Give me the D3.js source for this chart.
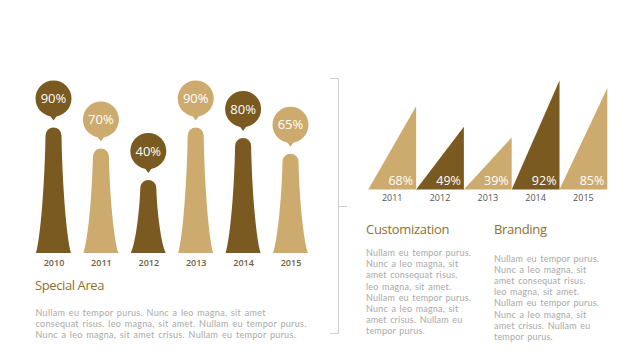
<!DOCTYPE html>
<html><head><meta charset="utf-8">
<script src="https://cdn.jsdelivr.net/npm/d3@7"></script>
<style>
html,body{margin:0;padding:0;background:#fff;}
svg{display:block;font-family:"Open Sans",sans-serif;}
</style></head>
<body>
<svg id="c" width="640" height="360"></svg>
<script>
// ---- data ----
const leftYears = ["2010","2011","2012","2013","2014","2015"];
const leftValues = [90,70,40,90,80,65];
const leftTones = ["dark","light","dark","light","dark","light"];

const rightYears = ["2011","2012","2013","2014","2015"];
const rightValues = [68,49,39,92,85];
const rightTones = ["light","dark","light","dark","light"];

const leftTitle = "Special Area";
const leftText = [
  "Nullam eu tempor purus. Nunc a leo magna, sit amet",
  "consequat risus. leo magna, sit amet. Nullam eu tempor purus.",
  "Nunc a leo magna, sit amet crisus. Nullam eu tempor purus."
];
const colTitles = ["Customization","Branding"];
const colText = [
  "Nullam eu tempor purus.",
  "Nunc a leo magna, sit",
  "amet consequat risus.",
  "leo magna, sit amet.",
  "Nullam eu tempor purus.",
  "Nunc a leo magna, sit",
  "amet crisus. Nullam eu",
  "tempor purus."
];

// ---- style ----
const COLORS = {dark:"#7a5a21", light:"#cdab6e"};
const HEAD = "#8c6f34";
const YEARC = "#6e5e42";
const BODY = "#a9a9a9";

const svg = d3.select("#c");

// ---- left chart: trumpet bars with bubbles ----
const lx = d3.scalePoint().domain(leftYears).range([53.5, 290.5]);
const ly = d3.scaleLinear().domain([0,100]).range([222,117]);
const base = 253;

function trumpet(cx, top){
  const r = 8, b = 17.5, h = base - top;
  const p = d3.path();
  p.moveTo(cx - b, base);
  p.bezierCurveTo(cx - r - 5, base - h*0.12, cx - r - 0.8, base - h*0.55, cx - r, top + r);
  p.arc(cx, top + r, r, Math.PI, 0);
  p.bezierCurveTo(cx + r + 0.8, base - h*0.55, cx + r + 5, base - h*0.12, cx + b, base);
  p.closePath();
  return p.toString();
}

const lg = svg.append("g");
leftYears.forEach((yr,i)=>{
  const cx = lx(yr), top = ly(leftValues[i]), col = COLORS[leftTones[i]];
  lg.append("path").attr("d", trumpet(cx, top)).attr("fill", col);
  const cy = top - 29;
  lg.append("circle").attr("cx",cx).attr("cy",cy).attr("r",18).attr("fill",col);
  lg.append("path")
    .attr("d", `M${cx-5},${cy+15}L${cx+5},${cy+15}L${cx},${cy+22}Z`)
    .attr("fill", col);
  lg.append("text").attr("x",cx).attr("y",cy+4.5).attr("text-anchor","middle")
    .attr("fill","#fff").attr("font-size",13).text(leftValues[i]+"%");
});
const lAxis = d3.axisBottom(lx).tickSize(0).tickPadding(0);
const lag = svg.append("g").attr("transform",`translate(0,${base+7})`).call(lAxis);
lag.select(".domain").remove();
lag.selectAll("text").attr("fill",YEARC).attr("font-size",9).attr("font-weight",600)
  .attr("font-family","'Open Sans',sans-serif");

svg.append("text").attr("x",35).attr("y",289.5).attr("fill",HEAD).attr("font-size",13)
  .attr("letter-spacing",-0.4).text(leftTitle);

function paragraph(x, y0, lh, lines, ls, ws){
  const t = svg.append("text").attr("fill",BODY).attr("font-size",9)
    .attr("font-family","Lato, sans-serif").attr("letter-spacing",ls)
    .attr("word-spacing",ws).style("white-space","pre");
  t.selectAll("tspan").data(lines).join("tspan")
    .attr("x",x).attr("y",(d,i)=>y0 + i*lh).text(d=>d);
}
paragraph(35.5, 316, 10.9, leftText, 0.3, 1);

// ---- bracket ----
const br = svg.append("g").attr("stroke","#cfcfcf").attr("stroke-width",1).attr("fill","none");
br.append("path").attr("d","M330,78.5H338.5V333.5H330");
br.append("path").attr("d","M338.5,206.5H347");

// ---- right chart: triangles ----
const rx = d3.scaleBand().domain(rightYears).range([368.3, 607.3]).padding(0);
const ry = d3.scaleLinear().domain([0,100]).range([179.3, 72]);
const rbase = 189.5;
const rg = svg.append("g");
rightYears.forEach((yr,i)=>{
  const x0 = rx(yr), x1 = x0 + rx.bandwidth(), top = ry(rightValues[i]);
  rg.append("path").attr("d",`M${x0},${rbase}L${x1},${rbase}L${x1},${top}Z`)
    .attr("fill", COLORS[rightTones[i]]);
  rg.append("text").attr("x",x1-3).attr("y",rbase-4.5).attr("text-anchor","end")
    .attr("fill","#fff").attr("font-size",12.5).text(rightValues[i]+"%");
});
const rAxis = d3.axisBottom(rx).tickSize(0).tickPadding(0);
const rag = svg.append("g").attr("transform",`translate(0,${rbase+5})`).call(rAxis);
rag.select(".domain").remove();
rag.selectAll("text").attr("fill","#555").attr("font-size",9)
  .attr("font-family","'Open Sans',sans-serif");

// ---- text columns ----
const colX = [366, 494];
const colY0 = [256, 261.5];
colTitles.forEach((t,k)=>{
  svg.append("text").attr("x",colX[k]).attr("y",234).attr("fill",HEAD).attr("font-size",13)
    .attr("letter-spacing",-0.3).text(t);
  paragraph(colX[k], colY0[k], 11.2, colText, 0.2, 1);
});
</script>
</body></html>
